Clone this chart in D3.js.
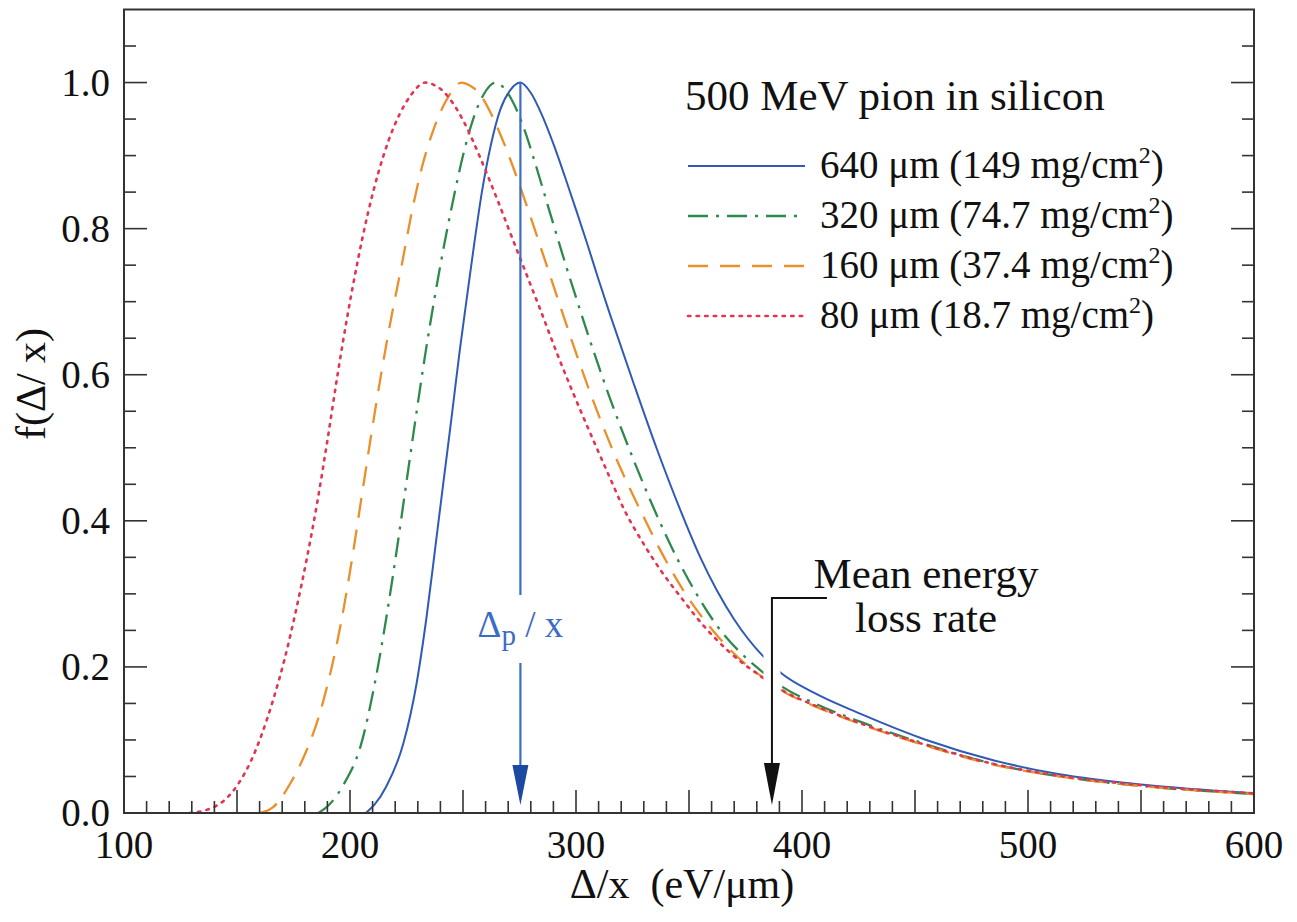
<!DOCTYPE html>
<html><head><meta charset="utf-8">
<script src="https://cdn.jsdelivr.net/npm/d3@7"></script>
<style>
body{margin:0;background:#fff;}
svg text{font-family:"Liberation Serif","Times New Roman",serif;}
</style>
</head><body>
<svg id="chart" width="1297" height="922"></svg>
<script>
// ---------- data ----------
const xTickLabels = [100, 200, 300, 400, 500, 600];
const yTickLabels = [0.0, 0.2, 0.4, 0.6, 0.8, 1.0];
const legendTitle = "500 MeV pion in silicon";
const seriesLabels = ["640 μm (149 mg/cm", "320 μm (74.7 mg/cm", "160 μm (37.4 mg/cm", "80 μm (18.7 mg/cm"];

const s640 = [[207,0],[211,0.012],[216,0.036],[223.6,0.095],[229.5,0.178],[233.9,0.269],[237.6,0.36],[241.3,0.452],[245,0.543],[248.6,0.634],[252,0.712],[255,0.78],[258.3,0.849],[262.5,0.917],[266.5,0.963],[271,0.99],[275.4,1.0],[280,0.986],[285,0.955],[290,0.916],[295,0.872],[300,0.826],[305,0.779],[310,0.73],[315,0.683],[325.4,0.589],[335.7,0.499],[346,0.416],[355,0.35],[362.3,0.305],[370,0.265],[383.6,0.212],[391,0.191],[405,0.165],[425.7,0.136],[455,0.1],[485,0.072],[514,0.053],[550,0.039],[600,0.027]];
const s320 = [[186,0],[191,0.012],[197,0.038],[205,0.095],[211,0.178],[216,0.266],[220.5,0.356],[224.7,0.447],[228.8,0.535],[233,0.622],[237.3,0.703],[241.5,0.775],[245.7,0.84],[250,0.9],[254.5,0.95],[259,0.983],[264.5,1.0],[268,0.993],[272.3,0.972],[277,0.937],[281.1,0.898],[285,0.858],[290,0.806],[295,0.755],[300.3,0.703],[305,0.658],[310,0.612],[315,0.568],[325.4,0.484],[335.7,0.408],[345,0.347],[353.3,0.3],[362,0.258],[372,0.222],[381.4,0.196],[391.7,0.172],[405,0.151],[425.7,0.125],[455,0.094],[485,0.067],[514,0.05],[550,0.037],[600,0.026]];
const s160 = [[160,0],[166,0.008],[173.5,0.04],[180,0.08],[186,0.13],[191.2,0.19],[196,0.26],[200.5,0.34],[205,0.43],[209.5,0.52],[214,0.605],[218.5,0.682],[223,0.752],[227.5,0.825],[232,0.886],[237,0.936],[242.5,0.975],[249.4,1.0],[253,0.996],[257.5,0.984],[262,0.96],[266.4,0.93],[271,0.894],[275.2,0.858],[280,0.815],[284.1,0.777],[291.5,0.708],[298.1,0.647],[306.2,0.576],[318,0.484],[329.8,0.406],[339,0.35],[348.9,0.298],[360,0.252],[370,0.218],[382.9,0.185],[393.1,0.164],[405,0.147],[425.7,0.122],[455,0.092],[485,0.066],[514,0.05],[550,0.037],[600,0.026]];
const s80 = [[129,0],[135,0.003],[141,0.01],[146,0.022],[151,0.042],[156,0.07],[161,0.108],[166,0.155],[171,0.21],[176,0.276],[181,0.35],[185.5,0.425],[190,0.51],[194.5,0.6],[199,0.683],[203.5,0.757],[208,0.822],[212.5,0.876],[217,0.92],[222,0.957],[227,0.983],[233.2,1.0],[237,0.997],[241.3,0.988],[245.5,0.972],[250.1,0.948],[257.5,0.898],[264.9,0.842],[272.3,0.783],[278,0.738],[284.1,0.69],[291.5,0.63],[299,0.573],[307.7,0.51],[315,0.459],[320.9,0.418],[330,0.368],[338,0.33],[346,0.297],[356,0.258],[368,0.22],[381.4,0.188],[393,0.165],[405,0.148],[425.7,0.123],[455,0.093],[485,0.067],[514,0.051],[550,0.038],[600,0.027]];

const peakLoss = 275.4;   // Δp/x
const meanLoss = 386.7;   // mean energy loss rate

// ---------- layout ----------
const svg = d3.select("#chart");
const L = 124, R = 1254, T = 9.5, B = 813;
const x = d3.scaleLinear().domain([100, 600]).range([L, R]);
const y = d3.scaleLinear().domain([0, 1.1]).range([B, T]);

const styles = [
  {data: s640, color: "#2f5bb7", dash: null, w: 2, cap: "butt"},
  {data: s320, color: "#2e8a4c", dash: "20,8,3,8", w: 2.3, cap: "butt"},
  {data: s160, color: "#ea8f2a", dash: "20,12", w: 2.3, cap: "butt"},
  {data: s80,  color: "#e23552", dash: "2.4,6.2", w: 2.6, cap: "round"}
];

svg.append("defs").append("clipPath").attr("id", "clip")
  .append("rect").attr("x", L).attr("y", T).attr("width", R - L).attr("height", B - T);

const line = d3.line().x(d => x(d[0])).y(d => y(d[1])).curve(d3.curveMonotoneX);
const g = svg.append("g").attr("clip-path", "url(#clip)");
styles.forEach(s => {
  g.append("path").datum(s.data).attr("d", line)
    .attr("fill", "none").attr("stroke", s.color).attr("stroke-width", s.w)
    .attr("stroke-dasharray", s.dash).attr("stroke-linecap", s.cap);
});

// ---------- axes ----------
const axisColor = "#333";
const fs = 39;
const xMinor = d3.range(110, 600, 10);
xMinor.forEach(v => {
  const major = v % 50 === 0;
  svg.append("line").attr("x1", x(v)).attr("x2", x(v)).attr("y1", B).attr("y2", B - (major ? 23 : 12))
    .attr("stroke", axisColor).attr("stroke-width", 1.6);
});
const yMinor = d3.range(1, 22).map(i => +(i * 0.05).toFixed(2));
yMinor.forEach(v => {
  const major = Math.abs(v * 5 - Math.round(v * 5)) < 1e-6;
  const len = major ? 23 : 12;
  svg.append("line").attr("x1", L).attr("x2", L + len).attr("y1", y(v)).attr("y2", y(v))
    .attr("stroke", axisColor).attr("stroke-width", 1.6);
  svg.append("line").attr("x1", R).attr("x2", R - len).attr("y1", y(v)).attr("y2", y(v))
    .attr("stroke", axisColor).attr("stroke-width", 1.6);
});
svg.append("rect").attr("x", L).attr("y", T).attr("width", R - L).attr("height", B - T)
  .attr("fill", "none").attr("stroke", axisColor).attr("stroke-width", 2);

svg.selectAll(".xl").data(xTickLabels).enter().append("text")
  .attr("x", d => x(d)).attr("y", 858).attr("text-anchor", "middle")
  .attr("font-size", fs).attr("fill", "#111").text(d => d);
svg.selectAll(".yl").data(yTickLabels).enter().append("text")
  .attr("x", 110).attr("y", d => y(d) + 13).attr("text-anchor", "end")
  .attr("font-size", fs).attr("fill", "#111").text(d => d.toFixed(1));

svg.append("text").attr("x", 682).attr("y", 898).attr("text-anchor", "middle")
  .attr("font-size", 42).attr("fill", "#111").attr("xml:space", "preserve").text("Δ/x  (eV/μm)");
svg.append("text").attr("transform", "translate(45,384) rotate(-90)").attr("text-anchor", "middle")
  .attr("font-size", 42).attr("fill", "#111").attr("xml:space", "preserve").text("f(Δ/ x)");

// ---------- legend ----------
svg.append("text").attr("x", 685).attr("y", 110).attr("font-size", 43).attr("fill", "#111").text(legendTitle);
styles.forEach((s, i) => {
  const by = 178 + i * 50;
  svg.append("line").attr("x1", 688).attr("x2", 805).attr("y1", by - 12).attr("y2", by - 12)
    .attr("stroke", s.color).attr("stroke-width", s.w).attr("stroke-dasharray", s.dash)
    .attr("stroke-linecap", s.cap);
  const t = svg.append("text").attr("x", 820).attr("y", by).attr("font-size", fs).attr("fill", "#111");
  t.append("tspan").text(seriesLabels[i]);
  t.append("tspan").attr("font-size", 24).attr("dy", -15).text("2");
  t.append("tspan").attr("dy", 15).text(")");
});

// ---------- annotations ----------
const bx = x(peakLoss);
const blue = "#3b6cc4", blueDark = "#1c4aa3";
svg.append("line").attr("x1", bx).attr("x2", bx).attr("y1", y(1.0)).attr("y2", 595)
  .attr("stroke", blue).attr("stroke-width", 2.2);
svg.append("line").attr("x1", bx).attr("x2", bx).attr("y1", 663).attr("y2", 775)
  .attr("stroke", blue).attr("stroke-width", 2.2);
svg.append("path").attr("d", `M${bx - 8},765 L${bx + 8},765 L${bx},805 Z`).attr("fill", blueDark);
const dt = svg.append("text").attr("x", bx).attr("y", 637).attr("text-anchor", "middle")
  .attr("font-size", 37).attr("fill", blue).attr("xml:space", "preserve");
dt.append("tspan").text("Δ");
dt.append("tspan").attr("font-size", 29).attr("dy", 8).text("p");
dt.append("tspan").attr("dy", -8).text(" / x");

const mx = x(meanLoss);
svg.append("line").attr("x1", mx).attr("x2", mx).attr("y1", 606).attr("y2", 795)
  .attr("stroke", "#fff").attr("stroke-width", 17);
svg.append("polyline").attr("points", `${mx + 55},598 ${mx},598 ${mx},775`)
  .attr("fill", "none").attr("stroke", "#111").attr("stroke-width", 2);
svg.append("path").attr("d", `M${mx - 8},763 L${mx + 8},763 L${mx},805 Z`).attr("fill", "#111");
svg.append("text").attr("x", 926).attr("y", 588).attr("text-anchor", "middle")
  .attr("font-size", 43).attr("fill", "#111").text("Mean energy");
svg.append("text").attr("x", 926).attr("y", 632).attr("text-anchor", "middle")
  .attr("font-size", 43).attr("fill", "#111").text("loss rate");
</script>
</body></html>
